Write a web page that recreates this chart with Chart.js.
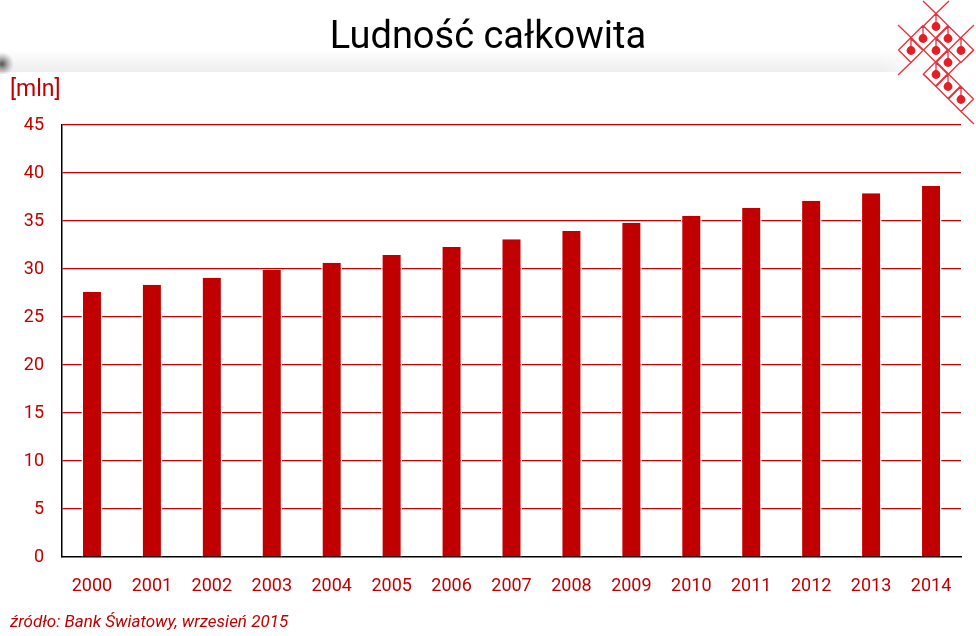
<!DOCTYPE html>
<html>
<head>
<meta charset="utf-8">
<script src="https://cdn.jsdelivr.net/npm/chart.js@4/dist/chart.umd.min.js"></script>
<style>
  html, body { margin: 0; padding: 0; background: #fff; }
  #wrap { width: 976px; height: 636px; position: relative; }
</style>
</head>
<body>
<div id="wrap"><canvas id="c" width="976" height="636"></canvas></div>
<script>
const years = ['2000','2001','2002','2003','2004','2005','2006','2007','2008','2009','2010','2011','2012','2013','2014'];
const population = [27.6, 28.35, 29.1, 29.9, 30.65, 31.45, 32.3, 33.1, 33.95, 34.8, 35.55, 36.35, 37.1, 37.9, 38.65];
const yTicks = [0, 5, 10, 15, 20, 25, 30, 35, 40, 45];
const titleText = 'Ludność całkowita';
const unitText = '[mln]';
const sourceText = 'źródło: Bank Światowy, wrzesień 2015';

const RED = '#c00000';
const FONT = 'Roboto, "Liberation Sans", Arial, sans-serif';

const decor = {
  id: 'decor',
  beforeDraw(chart) {
    const ctx = chart.ctx;
    ctx.save();
    ctx.fillStyle = '#fff';
    ctx.fillRect(0, 0, chart.width, chart.height);
    // gray band
    const g = ctx.createLinearGradient(0, 50, 0, 72);
    g.addColorStop(0, 'rgba(235,235,235,0)');
    g.addColorStop(1, 'rgba(238,238,238,1)');
    ctx.fillStyle = g;
    ctx.fillRect(0, 50, 930, 22);
    const gr = ctx.createLinearGradient(880, 0, 935, 0);
    gr.addColorStop(0, 'rgba(255,255,255,0)');
    gr.addColorStop(1, 'rgba(255,255,255,1)');
    ctx.fillStyle = gr;
    ctx.fillRect(880, 50, 60, 22);
    // left edge dark blur
    const gl = ctx.createRadialGradient(2, 64, 1, 2, 64, 12);
    gl.addColorStop(0, 'rgba(80,80,80,0.9)');
    gl.addColorStop(1, 'rgba(150,150,150,0)');
    ctx.fillStyle = gl;
    ctx.fillRect(0, 50, 16, 24);
    ctx.restore();
  },
  afterDraw(chart) {
    const ctx = chart.ctx;
    ctx.save();
    // title
    ctx.fillStyle = '#000';
    ctx.font = '400 38px ' + FONT;
    ctx.textAlign = 'center';
    ctx.textBaseline = 'alphabetic';
    ctx.fillText(titleText, 488, 48);
    // unit
    ctx.fillStyle = RED;
    ctx.font = '23px ' + FONT;
    ctx.textAlign = 'left';
    ctx.textBaseline = 'middle';
    ctx.fillText(unitText, 10, 90);
    // source
    ctx.font = 'italic 17px ' + FONT;
    ctx.fillText(sourceText, 10, 623);
    // logo
    const dots = [[936,26],[923,38],[948,38],[911,50],[936,50],[961,50],[948,62],[936,74],[948,86],[961,99]];
    const h = 12.5;
    ctx.strokeStyle = '#e8313a';
    ctx.lineWidth = 1.3;
    ctx.beginPath();
    dots.forEach(([x, y]) => {
      ctx.moveTo(x, y - h); ctx.lineTo(x + h, y); ctx.lineTo(x, y + h); ctx.lineTo(x - h, y); ctx.closePath();
      ctx.moveTo(x, y - h); ctx.lineTo(x, y);
    });
    // extending lines
    ctx.moveTo(923, 1); ctx.lineTo(936, 13.5); ctx.lineTo(949, 1);
    ctx.moveTo(898, 25); ctx.lineTo(911, 37.5);
    ctx.moveTo(974, 25); ctx.lineTo(961, 37.5);
    ctx.moveTo(911, 62.5); ctx.lineTo(898, 75);
    ctx.moveTo(961, 111.5); ctx.lineTo(974, 124);
    ctx.moveTo(923, 74); ctx.lineTo(936, 86.5);
    ctx.moveTo(961, 62.5); ctx.lineTo(974, 50);
    ctx.stroke();
    ctx.fillStyle = '#e31e25';
    dots.forEach(([x, y]) => {
      ctx.beginPath(); ctx.arc(x, y + 0.5, 4.4, 0, Math.PI * 2); ctx.fill();
    });
    ctx.restore();
  }
};

new Chart(document.getElementById('c'), {
  type: 'bar',
  data: {
    labels: years,
    datasets: [{
      data: population,
      backgroundColor: RED,
      borderColor: '#ffffff',
      borderWidth: { left: 1.5, right: 1.5, top: 0, bottom: 0 },
      borderSkipped: false,
      barPercentage: 0.35,
      categoryPercentage: 1.0
    }]
  },
  options: {
    responsive: false,
    animation: false,
    devicePixelRatio: 1,
    layout: { padding: { top: 125, left: 0, right: 15, bottom: 0 } },
    plugins: { legend: { display: false }, tooltip: { enabled: false }, title: { display: false } },
    scales: {
      x: {
        offset: true,
        grid: { display: false, drawTicks: false },
        border: { display: true, color: '#000', width: 1.5 },
        ticks: { color: RED, font: { family: FONT, size: 18 }, padding: 19, maxRotation: 0, autoSkip: false },
        afterFit(scale) { scale.height = 79; }
      },
      y: {
        min: 0, max: 45,
        afterBuildTicks(scale) { scale.ticks = yTicks.map(v => ({ value: v })); },
        grid: {
          drawTicks: false,
          color: ctx => (ctx.tick && ctx.tick.value === 0) ? 'rgba(0,0,0,0)' : RED,
          lineWidth: 1.2
        },
        border: { display: true, color: '#000', width: 1.5 },
        ticks: { color: RED, font: { family: FONT, size: 18 }, padding: 18 },
        afterFit(scale) { scale.width = 62; }
      }
    }
  },
  plugins: [decor]
});
</script>
</body>
</html>
